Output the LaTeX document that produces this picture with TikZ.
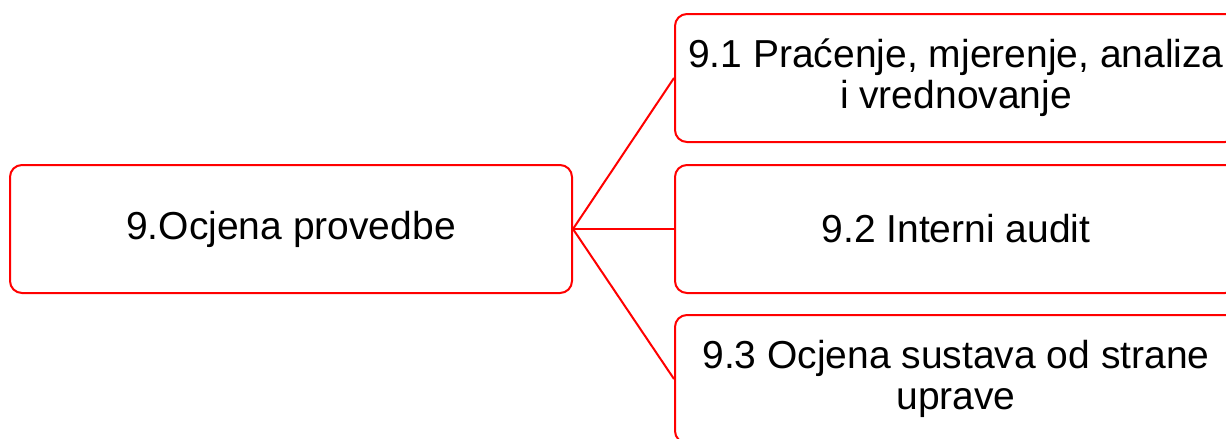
\documentclass[tikz,border=0pt]{standalone}
\usepackage{fontspec}
\setmainfont{Liberation Sans}
\usepackage{xcolor}
\definecolor{Col1}{RGB}{255,0,0}
\usepackage{tikz}
\tikzstyle{Box}=[draw=Col1,line width=2pt,rounded corners=12pt,
minimum width=562pt,minimum height=128pt,inner sep=0pt,align=center,
font=\fontsize{39}{41}\selectfont]
\tikzstyle{Edge}=[draw=Col1,line width=2pt]

\begin{document}
\begin{tikzpicture}[x=1pt,y=-1pt]
        \useasboundingbox (0,0) rectangle (1226,439);
        \node[Box](9)at(291,229){9.Ocjena provedbe};
        \node[Box](91)at(956,78)
            {9.1 Praćenje, mjerenje, analiza\\i vrednovanje};
        \node[Box](92)at(956,229){9.2 Interni audit};
        \node[Box](93)at(956,379)
            {9.3 Ocjena sustava od strane\\uprave};
        \draw[Edge](9.east)--(91.west);
        \draw[Edge](9.east)--(92.west);
        \draw[Edge](9.east)--(93.west);
    \end{tikzpicture}
\end{document}
